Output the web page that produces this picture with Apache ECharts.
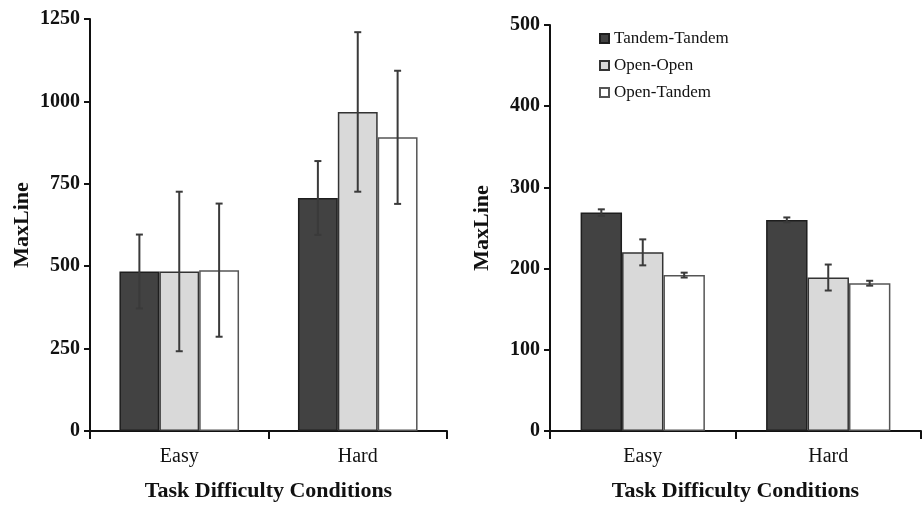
<!DOCTYPE html>
<html>
<head>
<meta charset="utf-8">
<script src="https://cdn.jsdelivr.net/npm/echarts@6/dist/echarts.min.js"></script>
<style>
  html, body { margin: 0; padding: 0; background: #fff; }
  #main { width: 923px; height: 507px; }
</style>
</head>
<body>
<div id="main"></div>
<script>
  // categories and series names
  const categories = ['Easy', 'Hard'];
  const seriesNames = ['Tandem-Tandem', 'Open-Open', 'Open-Tandem'];

  // left panel: means and +/- errors
  const leftTT = [484, 707];
  const leftOO = [484, 968];
  const leftOT = [488, 891];
  const leftErrTT = [112, 112];
  const leftErrOO = [242, 242];
  const leftErrOT = [202, 202];

  // right panel: means and +/- errors
  const rightTT = [269, 260];
  const rightOO = [220, 189];
  const rightOT = [192, 182];
  const rightErrTT = [4, 3];
  const rightErrOO = [16, 16];
  const rightErrOT = [3, 3];

  const barColors = ['#424242', '#d9d9d9', '#ffffff'];
  const barBorders = ['#1e1e1e', '#333333', '#555555'];
  const catGap = 0.33;
  const serif = 'Liberation Serif';

  let myChart = echarts.init(document.getElementById('main'), null, { renderer: 'canvas' });

  function errData(means, errs) {
    return means.map((m, i) => [i, m - errs[i], m + errs[i]]);
  }

  function errSeries(idx, gridIdx, means, errs) {
    return {
      type: 'custom',
      name: 'err' + gridIdx + idx,
      xAxisIndex: gridIdx,
      yAxisIndex: gridIdx,
      z: 5,
      silent: true,
      encode: { x: 0, y: [1, 2] },
      data: errData(means, errs),
      renderItem: function (params, api) {
        const x = api.value(0);
        const lo = api.coord([x, api.value(1)]);
        const hi = api.coord([x, api.value(2)]);
        const catW = api.size([1, 0])[0];
        const barW = catW * (1 - catGap) / 3;
        const cx = lo[0] + (idx - 1) * barW;
        const cap = 3.5;
        const style = { stroke: '#3a3a3a', lineWidth: 2 };
        return {
          type: 'group',
          children: [
            { type: 'line', shape: { x1: cx, y1: lo[1], x2: cx, y2: hi[1] }, style: style },
            { type: 'line', shape: { x1: cx - cap, y1: lo[1], x2: cx + cap, y2: lo[1] }, style: style },
            { type: 'line', shape: { x1: cx - cap, y1: hi[1], x2: cx + cap, y2: hi[1] }, style: style }
          ]
        };
      }
    };
  }

  function barSeries(idx, gridIdx, values) {
    return {
      type: 'bar',
      name: seriesNames[idx],
      xAxisIndex: gridIdx,
      yAxisIndex: gridIdx,
      barGap: '0%',
      barCategoryGap: (catGap * 100) + '%',
      itemStyle: { color: barColors[idx], borderColor: barBorders[idx], borderWidth: 1.5 },
      data: values
    };
  }

  function xAxis(gridIdx) {
    return {
      type: 'category',
      gridIndex: gridIdx,
      data: categories,
      axisLine: { lineStyle: { color: '#111', width: 2 } },
      axisTick: { show: true, length: 8, lineStyle: { color: '#111', width: 2 } },
      axisLabel: { color: '#111', fontFamily: serif, fontSize: 20, margin: 16 },
      name: 'Task Difficulty Conditions',
      nameLocation: 'middle',
      nameGap: 49,
      nameTextStyle: { color: '#111', fontFamily: serif, fontSize: 22, fontWeight: 'bold' }
    };
  }

  function yAxis(gridIdx, max, interval) {
    return {
      type: 'value',
      gridIndex: gridIdx,
      min: 0,
      max: max,
      interval: interval,
      splitLine: { show: false },
      axisLine: { show: true, lineStyle: { color: '#111', width: 2 } },
      axisTick: { show: true, length: 6, lineStyle: { color: '#111', width: 2 } },
      axisLabel: {
        color: '#111', fontFamily: serif, fontSize: 20, fontWeight: 'bold', margin: 10,
        formatter: function (v) { return String(v); }
      },
      name: 'MaxLine',
      nameLocation: 'middle',
      nameGap: 57,
      nameTextStyle: { color: '#111', fontFamily: serif, fontSize: 22, fontWeight: 'bold' }
    };
  }

  let option = {
    backgroundColor: '#fff',
    animation: false,
    legend: {
      data: seriesNames,
      orient: 'vertical',
      left: 594,
      top: 25,
      icon: 'rect',
      itemWidth: 9,
      itemHeight: 9,
      itemGap: 10,
      textStyle: { color: '#111', fontFamily: serif, fontSize: 17, lineHeight: 17 }
    },
    grid: [
      { left: 90, right: 476, top: 19, bottom: 75 },
      { left: 550, right: 2, top: 25, bottom: 75 }
    ],
    xAxis: [xAxis(0), xAxis(1)],
    yAxis: [yAxis(0, 1250, 250), yAxis(1, 500, 100)],
    series: [
      barSeries(0, 0, leftTT),
      barSeries(1, 0, leftOO),
      barSeries(2, 0, leftOT),
      barSeries(0, 1, rightTT),
      barSeries(1, 1, rightOO),
      barSeries(2, 1, rightOT),
      errSeries(0, 0, leftTT, leftErrTT),
      errSeries(1, 0, leftOO, leftErrOO),
      errSeries(2, 0, leftOT, leftErrOT),
      errSeries(0, 1, rightTT, rightErrTT),
      errSeries(1, 1, rightOO, rightErrOO),
      errSeries(2, 1, rightOT, rightErrOT)
    ]
  };

  myChart.setOption(option);
</script>
</body>
</html>
